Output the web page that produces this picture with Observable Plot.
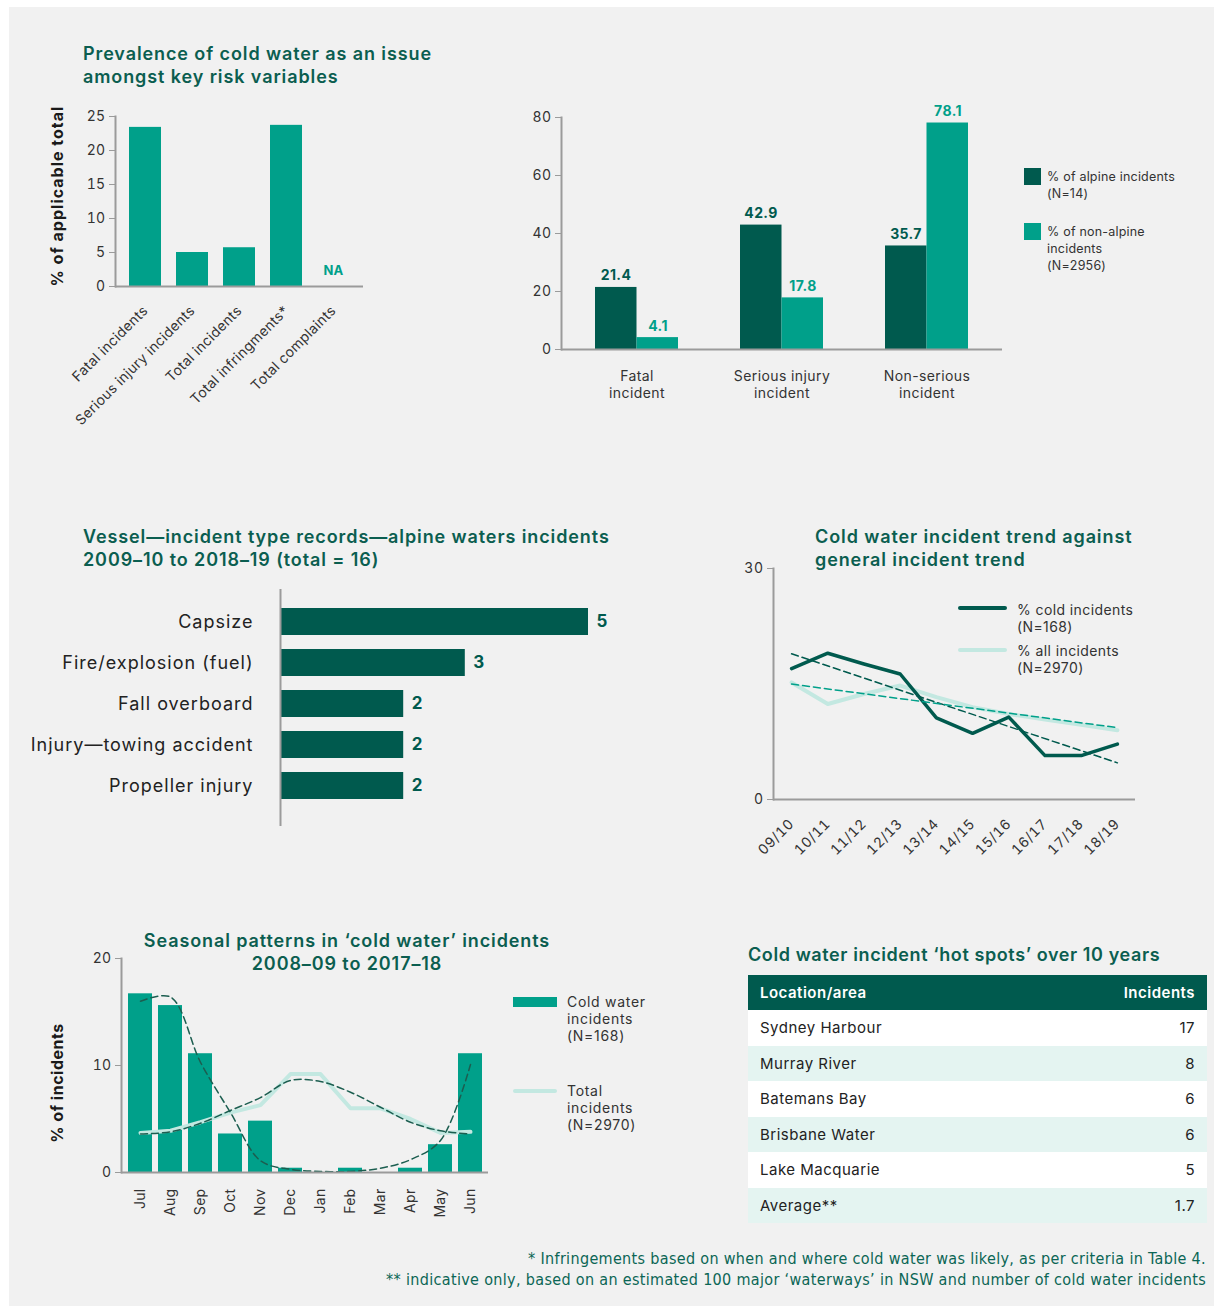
<!DOCTYPE html>
<html><head><meta charset="utf-8">
<script src="https://cdn.jsdelivr.net/npm/d3@7"></script>
<script src="https://cdn.jsdelivr.net/npm/@observablehq/plot@0.6"></script>
<style>
body{margin:0;background:#fff;font-family:Inter,"Open Sans",sans-serif;}
#page{position:relative;width:1214px;height:1309px;overflow:hidden;}
#panel{position:absolute;left:9px;top:7px;width:1205px;height:1299px;background:#f1f1f1;}
.abs{position:absolute;}
.title{font-weight:600;font-size:18px;color:#0b5e50;line-height:23px;white-space:nowrap;letter-spacing:0.9px;}
.leg{font-size:14px;color:#333;line-height:17px;white-space:nowrap;letter-spacing:0.4px;}
.ylab{font-weight:700;font-size:16px;color:#1a1a1a;white-space:nowrap;transform:rotate(-90deg);transform-origin:center center;text-align:center;}
table{border-collapse:collapse;width:459px;font-size:15px;color:#222;letter-spacing:0.5px;}
th{background:#005a4e;color:#fff;font-weight:600;height:35px;padding:0 12px;}
td{height:35.5px;padding:0 12px;}
.foot{font-family:"Liberation Sans Narrow","DejaVu Sans Condensed",sans-serif;font-size:16px;color:#0b6655;line-height:21px;text-align:right;white-space:nowrap;letter-spacing:0.33px;}
</style></head>
<body><div id="page"><div id="panel"></div></div>
<script>
// ---------- data ----------
const riskVars = ["Fatal incidents", "Serious injury incidents", "Total incidents", "Total infringments*", "Total complaints"];
const riskPct = [23.4, 5.0, 5.7, 23.7, null];

const incidentTypes = ["Fatal\nincident", "Serious injury\nincident", "Non-serious\nincident"];
const alpinePct = [21.4, 42.9, 35.7];
const nonAlpinePct = [4.1, 17.8, 78.1];

const vesselTypes = ["Capsize", "Fire/explosion (fuel)", "Fall overboard", "Injury—towing accident", "Propeller injury"];
const vesselCounts = [5, 3, 2, 2, 2];

const seasons = ["09/10", "10/11", "11/12", "12/13", "13/14", "14/15", "15/16", "16/17", "17/18", "18/19"];
const coldPct = [17.0, 19.0, 17.6, 16.3, 10.6, 8.6, 10.7, 5.7, 5.7, 7.2];
const allPct = [15.2, 12.4, 13.7, 14.8, 13.3, 12.0, 11.1, 10.4, 9.7, 9.0];

const months = ["Jul", "Aug", "Sep", "Oct", "Nov", "Dec", "Jan", "Feb", "Mar", "Apr", "May", "Jun"];
const coldMonthPct = [16.7, 15.6, 11.1, 3.6, 4.8, 0.4, 0, 0.4, 0, 0.4, 2.6, 11.1];
const totalMonthPct = [3.7, 3.9, 4.7, 5.6, 6.3, 9.2, 9.2, 6.0, 6.0, 5.0, 3.7, 3.8];
const coldMonthTrend = [16.0, 16.4, 10.3, 5.6, 1.1, 0.3, 0.1, 0.1, 0.4, 1.2, 3.0, 10.1];
const totalMonthTrend = [3.6, 3.8, 4.6, 5.8, 7.0, 8.6, 8.5, 7.5, 6.1, 4.7, 3.9, 3.6];

const hotSpots = ["Sydney Harbour", "Murray River", "Batemans Bay", "Brisbane Water", "Lake Macquarie", "Average**"];
const hotSpotIncidents = ["17", "8", "6", "6", "5", "1.7"];

// ---------- styling ----------
const DARK = "#005a4e", TEAL = "#00a08a", LIGHT = "#c3e8e1", AXIS = "#9b9b9b", TXT = "#333";
const style = (ls) => ({background: "transparent", fontFamily: "Inter, 'Open Sans', sans-serif", fontSize: "14px", color: TXT, overflow: "visible", letterSpacing: ls});
const page = document.getElementById("page");
function place(el, left, top) {
  const d = document.createElement("div");
  d.className = "abs"; d.style.left = left + "px"; d.style.top = top + "px";
  if (typeof el === "string") d.innerHTML = el; else d.appendChild(el);
  page.appendChild(d); return d;
}

// ---------- chart 1 ----------
const riskData = riskVars.map((c, i) => ({cat: c, pct: riskPct[i]}));
place(`<div class="title">Prevalence of cold water as an issue<br>amongst key risk variables</div>`, 83, 42);
place(Plot.plot({
  width: 380, height: 340, marginLeft: 115, marginRight: 17, marginTop: 16, marginBottom: 154,
  style: style("0.3px"),
  x: {domain: riskVars, paddingInner: 0.32, paddingOuter: 0.27, label: null},
  y: {domain: [0, 25], label: null},
  marks: [
    Plot.barY(riskData, {x: "cat", y: "pct", fill: TEAL}),
    Plot.frame({anchor: "left", stroke: AXIS, strokeWidth: 2}),
    Plot.ruleY([0], {stroke: AXIS, strokeWidth: 2}),
    Plot.axisY({ticks: [0, 5, 10, 15, 20, 25], tickSize: 6, tickPadding: 4, stroke: AXIS, fill: TXT, fontSize: 14, label: null}),
    Plot.axisX({tickRotate: -45, tickSize: 0, tickPadding: 22, fill: TXT, fontSize: 14, label: null}),
    Plot.text(riskData.filter(d => d.pct == null), {x: "cat", y: () => 0, text: () => "NA", dy: -16, fill: TEAL, fontWeight: 700, fontSize: 13})
  ]
}), 0, 100);
place(`<div class="ylab" style="width:200px;letter-spacing:1px">% of applicable total</div>`, -43, 186);

// ---------- chart 2 ----------
const groupData = incidentTypes.map((c, i) => ({cat: c, alpine: alpinePct[i], non: nonAlpinePct[i]}));
place(Plot.plot({
  width: 520, height: 320, marginLeft: 61, marginRight: 18, marginTop: 17, marginBottom: 71,
  style: style("0.4px"),
  x: {domain: incidentTypes, paddingInner: 0.43, paddingOuter: 0.23, axis: null},
  y: {domain: [0, 80], label: null},
  marks: [
    Plot.barY(groupData, {x: "cat", y: "alpine", fill: DARK, insetRight: 41.5}),
    Plot.barY(groupData, {x: "cat", y: "non", fill: TEAL, insetLeft: 41.5}),
    Plot.text(groupData, {x: "cat", y: "alpine", text: d => d.alpine.toFixed(1), dx: -21, dy: -7, lineAnchor: "bottom", fill: DARK, fontWeight: 700, fontSize: 14}),
    Plot.text(groupData, {x: "cat", y: "non", text: d => d.non.toFixed(1), dx: 21, dy: -7, lineAnchor: "bottom", fill: TEAL, fontWeight: 700, fontSize: 14}),
    Plot.frame({anchor: "left", stroke: AXIS, strokeWidth: 2}),
    Plot.ruleY([0], {stroke: AXIS, strokeWidth: 2}),
    Plot.axisY({ticks: [0, 20, 40, 60, 80], tickSize: 6, tickPadding: 4, stroke: AXIS, fill: TXT, fontSize: 14, label: null}),
    Plot.text(incidentTypes, {x: d => d, text: d => d, frameAnchor: "bottom", dy: 19, lineAnchor: "top", lineHeight: 1.25, fill: TXT, fontSize: 14})
  ]
}), 500, 100);
place(`<div style="width:17px;height:17px;background:${DARK}"></div>`, 1024, 168);
place(`<div class="leg" style="font-size:12.5px;letter-spacing:0.2px">% of alpine incidents<br>(N=14)</div>`, 1047, 167.5);
place(`<div style="width:17px;height:17px;background:${TEAL}"></div>`, 1024, 223);
place(`<div class="leg" style="font-size:12.5px;letter-spacing:0.2px">% of non-alpine<br>incidents<br>(N=2956)</div>`, 1047, 222.5);

// ---------- chart 3 ----------
const vesselData = vesselTypes.map((t, i) => ({type: t, n: vesselCounts[i]}));
place(`<div class="title">Vessel—incident type records—alpine waters incidents<br>2009–10 to 2018–19 (total = 16)</div>`, 83, 524.5);
place(Plot.plot({
  width: 640, height: 260, marginLeft: 280, marginRight: 52, marginTop: 9, marginBottom: 14,
  style: style("1px"),
  x: {domain: [0, 5], axis: null},
  y: {domain: vesselTypes, paddingInner: 0.35, paddingOuter: 0.53, align: 0.42, label: null},
  marks: [
    Plot.barX(vesselData, {x: "n", y: "type", fill: DARK}),
    Plot.ruleX([0], {stroke: AXIS, strokeWidth: 2}),
    Plot.text(vesselData, {x: "n", y: "type", text: d => String(d.n), dx: 8, textAnchor: "start", fill: DARK, fontWeight: 700, fontSize: 17}),
    Plot.axisY({tickSize: 0, tickPadding: 27, fill: "#222", fontSize: 18, label: null})
  ]
}), 0, 580);

// ---------- chart 4 ----------
const trendData = seasons.map((s, i) => ({i, s, cold: coldPct[i], all: allPct[i]}));
place(`<div class="title">Cold water incident trend against<br>general incident trend</div>`, 815, 524.5);
place(Plot.plot({
  width: 430, height: 300, marginLeft: 43, marginRight: 25, marginTop: 8, marginBottom: 61,
  style: style("0.5px"),
  x: {domain: [-0.5, 9.5], label: null},
  y: {domain: [0, 30], label: null},
  marks: [
    Plot.frame({anchor: "left", stroke: AXIS, strokeWidth: 2}),
    Plot.ruleY([0], {stroke: AXIS, strokeWidth: 2}),
    Plot.line(trendData, {x: "i", y: "all", stroke: LIGHT, strokeWidth: 4}),
    Plot.line(trendData, {x: "i", y: "cold", stroke: DARK, strokeWidth: 3.5}),
    Plot.linearRegressionY(trendData, {x: "i", y: "cold", stroke: DARK, strokeWidth: 1.5, strokeDasharray: "7,4", ci: 0}),
    Plot.linearRegressionY(trendData, {x: "i", y: "all", stroke: TEAL, strokeWidth: 1.5, strokeDasharray: "7,4", ci: 0}),
    Plot.axisY({ticks: [0, 30], tickSize: 6, tickPadding: 4, stroke: AXIS, fill: TXT, fontSize: 14, label: null}),
    Plot.axisX({ticks: d3.range(seasons.length), tickFormat: i => seasons[i], tickRotate: -45, tickSize: 0, tickPadding: 22, fill: TXT, fontSize: 14, label: null})
  ]
}), 730, 560);
place(`<div style="width:49px;height:4px;border-radius:2px;background:${DARK}"></div>`, 958, 606);
place(`<div class="leg">% cold incidents<br>(N=168)</div>`, 1017, 600.5);
place(`<div style="width:49px;height:4px;border-radius:2px;background:${LIGHT}"></div>`, 958, 648);
place(`<div class="leg">% all incidents<br>(N=2970)</div>`, 1017, 641.5);

// ---------- chart 5 ----------
const monthData = months.map((m, i) => ({m, cold: coldMonthPct[i], total: totalMonthPct[i], coldT: coldMonthTrend[i], totalT: totalMonthTrend[i]}));
place(`<div class="title" style="width:500px;text-align:center">Seasonal patterns in ‘cold water’ incidents<br>2008–09 to 2017–18</div>`, 97, 928.5);
place(Plot.plot({
  width: 470, height: 280, marginLeft: 81, marginRight: 22, marginTop: 18, marginBottom: 48,
  style: style("0.3px"),
  x: {domain: months, paddingInner: 0.21, paddingOuter: 0.2, label: null},
  y: {domain: [0, 20], label: null},
  marks: [
    Plot.barY(monthData, {x: "m", y: "cold", fill: TEAL}),
    Plot.line(monthData, {x: "m", y: "total", stroke: LIGHT, strokeWidth: 4}),
    Plot.line(monthData, {x: "m", y: "coldT", curve: "catmull-rom", stroke: "#1c5e50", strokeWidth: 1.5, strokeDasharray: "7,4"}),
    Plot.line(monthData, {x: "m", y: "totalT", curve: "catmull-rom", stroke: "#1c5e50", strokeWidth: 1.5, strokeDasharray: "7,4"}),
    Plot.frame({anchor: "left", stroke: AXIS, strokeWidth: 2}),
    Plot.ruleY([0], {stroke: AXIS, strokeWidth: 2}),
    Plot.axisY({ticks: [0, 10, 20], tickSize: 6, tickPadding: 4, stroke: AXIS, fill: TXT, fontSize: 14, label: null}),
    Plot.axisX({tickRotate: -90, tickSize: 0, tickPadding: 16, fill: TXT, fontSize: 14, label: null})
  ]
}), 40, 940);
place(`<div class="ylab" style="width:160px;letter-spacing:0.5px">% of incidents</div>`, -23, 1073);
place(`<div style="width:44px;height:10px;background:${TEAL}"></div>`, 513, 997);
place(`<div class="leg" style="letter-spacing:0.7px">Cold water<br>incidents<br>(N=168)</div>`, 567, 992.5);
place(`<div style="width:44px;height:4px;border-radius:2px;background:${LIGHT}"></div>`, 513, 1089);
place(`<div class="leg" style="letter-spacing:0.7px">Total<br>incidents<br>(N=2970)</div>`, 567, 1081.5);

// ---------- table ----------
place(`<div class="title" style="letter-spacing:0.6px">Cold water incident ‘hot spots’ over 10 years</div>`, 748, 942.5);
const tbl = document.createElement("table");
const hr = tbl.insertRow();
["Location/area", "Incidents"].forEach((h, i) => {
  const th = document.createElement("th"); th.textContent = h; th.style.textAlign = i ? "right" : "left"; hr.appendChild(th);
});
hotSpots.forEach((h, i) => {
  const r = tbl.insertRow();
  r.style.background = i % 2 ? "#e4f4f1" : "#ffffff";
  const a = r.insertCell(); a.textContent = h;
  const b = r.insertCell(); b.textContent = hotSpotIncidents[i]; b.style.textAlign = "right";
});
place(tbl, 748, 975);

// ---------- footnotes ----------
const fn = place(`<div class="foot">* Infringements based on when and where cold water was likely, as per criteria in Table 4.<br>** indicative only, based on an estimated 100 major ‘waterways’ in NSW and number of cold water incidents</div>`, 0, 1247.5);
fn.style.left = ""; fn.style.right = "8px";
</script></body></html>
